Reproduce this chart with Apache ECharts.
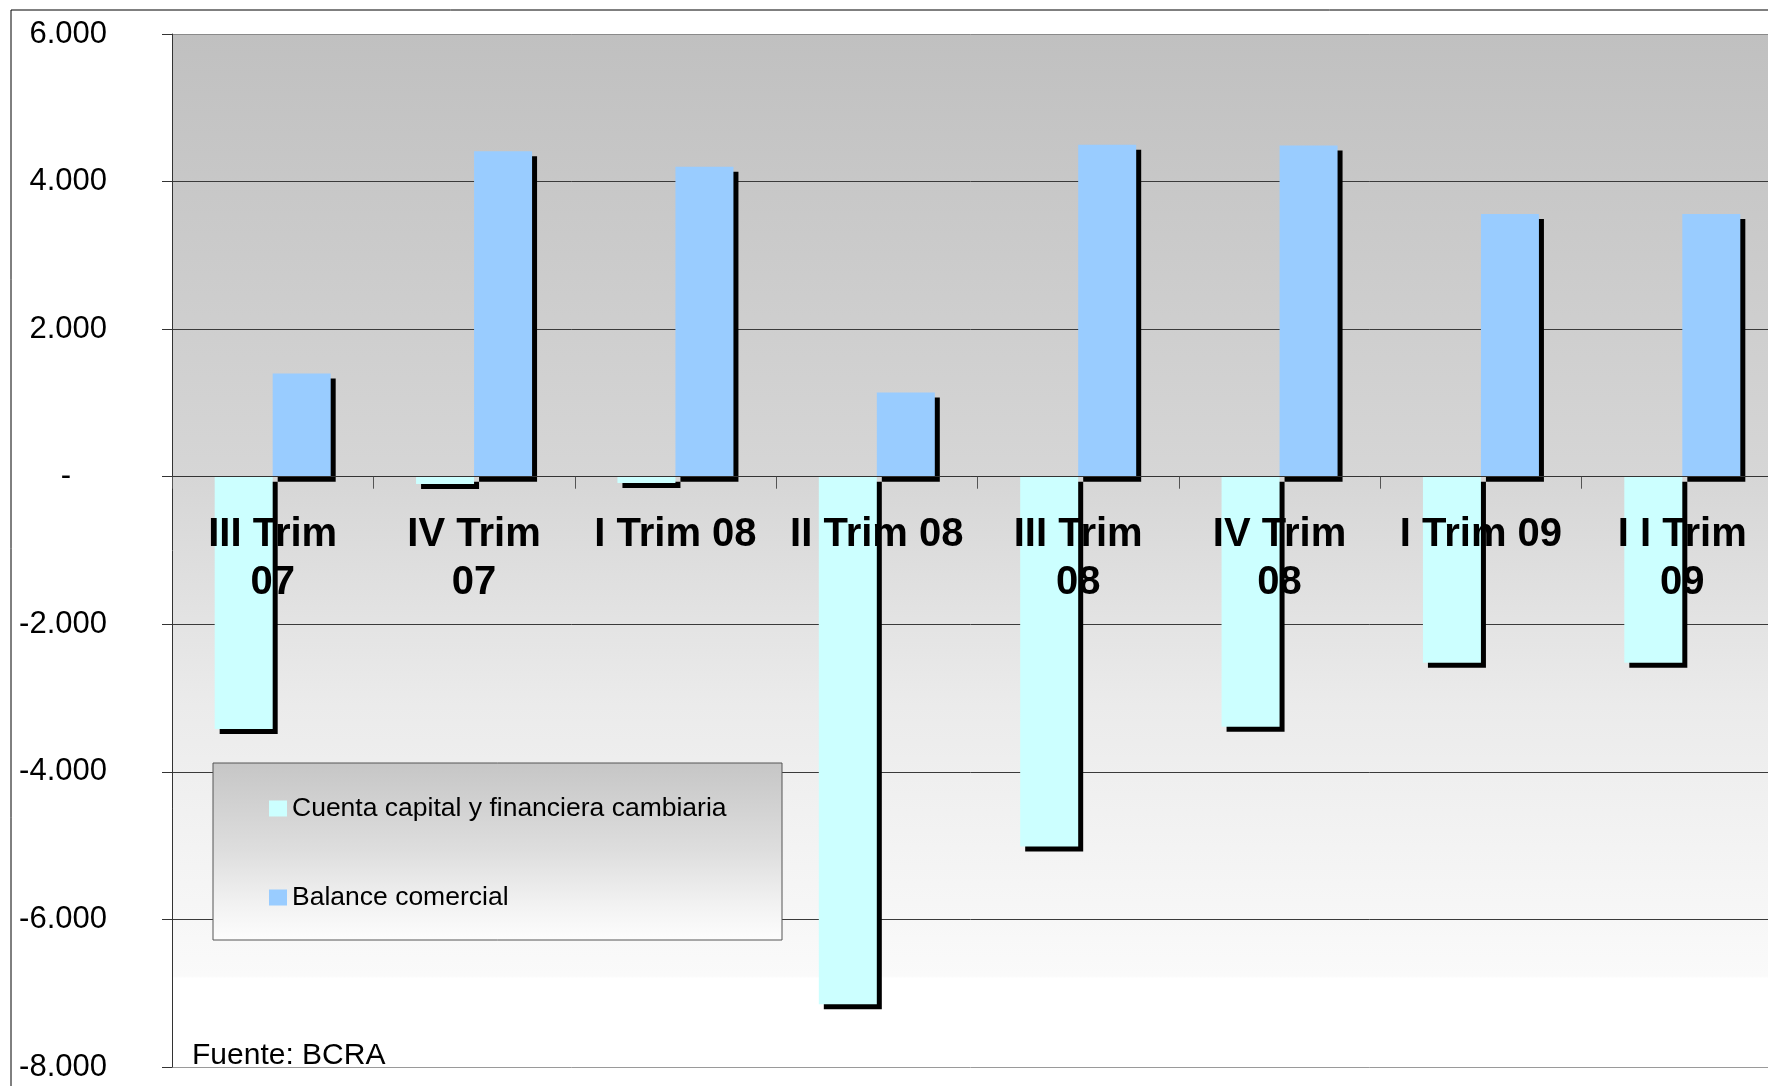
<!DOCTYPE html>
<html>
<head>
<meta charset="utf-8">
<title>Cuenta capital y Balance comercial</title>
<script src="https://cdn.jsdelivr.net/npm/echarts@6/dist/echarts.min.js"></script>
<style>
  html, body { margin: 0; padding: 0; background: #ffffff; }
  #chart { width: 1768px; height: 1086px; }
</style>
</head>
<body>
<div id="chart"></div>
<script>
// Trimestres (millones de US$)
const categories = [
  'III Trim\n07', 'IV Trim\n07', 'I Trim 08', 'II Trim 08',
  'III Trim\n08', 'IV Trim\n08', 'I Trim 09', 'I I Trim\n09'
];
const seriesNames = ['Cuenta capital y financiera cambiaria', 'Balance comercial'];
const cuentaCapital = [-3420, -100, -85, -7150, -5010, -3390, -2520, -2520];
const balanceComercial = [1400, 4410, 4200, 1140, 4500, 4490, 3560, 3560];
const yTicks = { min: -8000, max: 6000, interval: 2000 };
const sourceNote = 'Fuente: BCRA';

const FONT = '"Liberation Sans", Arial, Helvetica, sans-serif';

// plot area in pixels
const GRID = { left: 172, top: 34, right: -15, bottom: 19 };
const plotHeight = 1086 - GRID.top - GRID.bottom;
// the category axis sits on the zero line of the value axis
const zeroShift = plotHeight * (0 - yTicks.min) / (yTicks.max - yTicks.min);

function fmtThousands(v) {
  const s = String(Math.abs(v)).replace(/\B(?=(\d{3})+(?!\d))/g, '.');
  return (v < 0 ? '-' : '') + s;
}

const barShadow = {
  shadowColor: '#000000',
  shadowBlur: 0,
  shadowOffsetX: 5,
  shadowOffsetY: 5
};

const chart = echarts.init(document.getElementById('chart'), null, { renderer: 'canvas' });

chart.setOption({
  animation: false,
  backgroundColor: '#ffffff',
  textStyle: { fontFamily: FONT },
  grid: {
    left: GRID.left,
    top: GRID.top,
    right: GRID.right,
    bottom: GRID.bottom,
    containLabel: false,
    outerBoundsMode: 'none',
    show: true,
    borderWidth: 0,
    backgroundColor: {
      type: 'linear', x: 0, y: 0, x2: 0, y2: 1,
      colorStops: [
        { offset: 0, color: '#c0c0c0' },
        { offset: 0.43, color: '#d6d6d6' },
        { offset: 0.65, color: '#ebebeb' },
        { offset: 0.84, color: '#f6f6f6' },
        { offset: 0.912, color: '#fafafa' },
        { offset: 0.914, color: '#ffffff' },
        { offset: 1, color: '#ffffff' }
      ]
    }
  },
  legend: {
    orient: 'vertical',
    left: 269,
    top: 795,
    padding: 0,
    itemGap: 62,
    itemWidth: 18,
    itemHeight: 16,
    icon: 'rect',
    data: seriesNames,
    z: 20,
    itemStyle: { shadowColor: 'transparent', shadowOffsetX: 0, shadowOffsetY: 0, shadowBlur: 0 },
    textStyle: { fontFamily: FONT, fontSize: 26.5, lineHeight: 26, color: '#000000' }
  },
  xAxis: {
    type: 'category',
    data: categories,
    z: 10,
    offset: -zeroShift,
    axisLine: { onZero: false, lineStyle: { color: '#333333', width: 1 } },
    axisTick: { show: true, alignWithLabel: false, inside: false, length: 12, lineStyle: { color: '#555555' } },
    axisLabel: {
      interval: 0,
      margin: 34,
      color: '#000000',
      fontFamily: FONT,
      fontWeight: 'bold',
      fontSize: 40,
      lineHeight: 48
    },
    splitLine: { show: false }
  },
  yAxis: {
    type: 'value',
    min: yTicks.min,
    max: yTicks.max,
    interval: yTicks.interval,
    axisLine: { show: true, lineStyle: { color: '#333333', width: 1 } },
    axisTick: { show: true, inside: false, length: 10, lineStyle: { color: '#333333' } },
    axisLabel: {
      margin: 65,
      color: '#000000',
      fontFamily: FONT,
      fontSize: 31,
      formatter: function (v) { return v === 0 ? '{z|-}' : fmtThousands(v); },
      rich: {
        z: { fontFamily: FONT, fontSize: 31, color: '#000000', padding: [0, 36, 0, 0] }
      }
    },
    splitLine: {
      show: true,
      lineStyle: {
        width: 1,
        color: ['#9a9a9a', '#3a3a3a', '#3a3a3a', '#3a3a3a', '#3a3a3a', '#3a3a3a', '#3a3a3a', '#8a8a8a']
      }
    }
  },
  series: [
    {
      name: seriesNames[0],
      type: 'bar',
      data: cuentaCapital,
      barWidth: 58,
      barGap: '0%',
      itemStyle: Object.assign({ color: '#ccffff' }, barShadow)
    },
    {
      name: seriesNames[1],
      type: 'bar',
      data: balanceComercial,
      barWidth: 58,
      barGap: '0%',
      itemStyle: Object.assign({ color: '#99ccff' }, barShadow)
    }
  ],
  graphic: [
    {
      type: 'rect',
      silent: true,
      z: -10,
      shape: { x: 11, y: 10, width: 1800, height: 1200 },
      style: { fill: 'none', stroke: '#000000', lineWidth: 1 }
    },
    {
      type: 'rect',
      silent: true,
      z: 15,
      shape: { x: 213, y: 763, width: 569, height: 177 },
      style: {
        fill: {
          type: 'linear', x: 0, y: 0, x2: 0, y2: 1,
          colorStops: [
            { offset: 0, color: '#c6c6c6' },
            { offset: 0.5, color: '#dedede' },
            { offset: 0.8, color: '#f2f2f2' },
            { offset: 1, color: '#fdfdfd' }
          ]
        },
        stroke: '#555555',
        lineWidth: 1
      }
    },
    {
      type: 'text',
      silent: true,
      z: 15,
      left: 192,
      top: 1041,
      style: {
        text: sourceNote,
        font: '30px ' + FONT,
        fill: '#000000'
      }
    }
  ]
});
</script>
</body>
</html>
